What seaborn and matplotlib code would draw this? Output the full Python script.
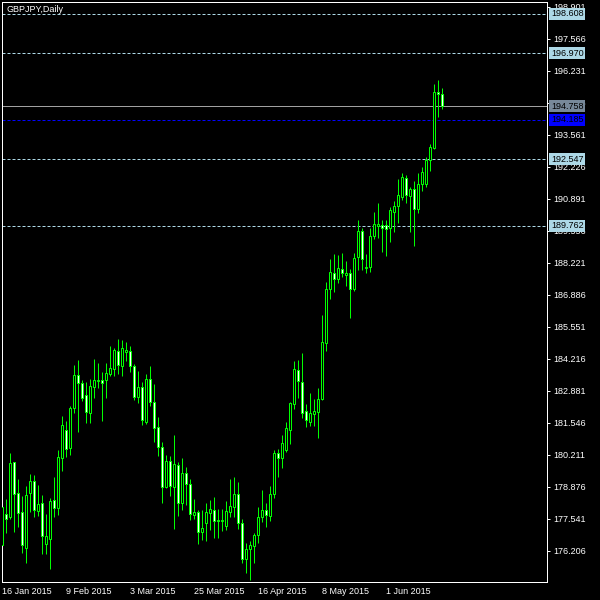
import numpy as np
import pandas as pd
import seaborn as sns
import matplotlib.pyplot as plt

# daily candles, GBPJPY from 16 Jan 2015
opens = [176.44, 177.74, 177.62, 179.89, 178.60, 177.81, 176.33, 178.60, 179.10, 177.87,
         178.18, 176.50, 176.71, 178.31, 178.00, 180.08, 181.24, 180.48, 182.15, 183.54,
         183.19, 182.70, 181.96, 183.05, 183.29, 183.31, 183.33, 183.59, 183.80, 184.53,
         183.93, 184.49, 184.55, 183.91, 182.63, 183.02, 181.59, 183.36, 182.40, 181.35,
         180.52, 178.85, 179.93, 178.87, 179.77, 178.18, 179.43, 178.97, 177.71, 177.81,
         177.00, 177.37, 177.77, 177.90, 177.49, 177.46, 177.25, 177.81, 178.04, 178.56,
         177.35, 175.85, 176.26, 176.41, 176.85, 177.60, 177.89, 177.67, 178.56, 180.27,
         180.06, 180.41, 181.24, 182.31, 183.73, 183.23, 182.02, 181.59, 181.90, 182.00,
         182.52, 184.86, 187.12, 187.78, 187.55, 187.96, 187.72, 187.78, 187.14, 188.47,
         189.56, 187.99, 188.03, 189.34, 189.76, 189.81, 189.81, 189.66, 190.35, 190.59,
         190.97, 191.74, 191.02, 191.29, 190.45, 191.50, 191.49, 192.50, 193.02, 195.35,
         195.26]
highs = [178.11, 178.35, 180.28, 179.92, 179.20, 178.49, 178.90, 179.40, 179.35, 178.95,
         178.53, 177.74, 178.39, 179.29, 180.41, 181.82, 181.62, 182.24, 183.95, 184.16,
         183.33, 183.23, 183.37, 184.19, 184.04, 183.67, 184.04, 184.74, 184.66, 185.04,
         184.99, 184.90, 184.74, 184.01, 183.70, 183.24, 183.58, 183.91, 183.16, 181.77,
         180.73, 180.20, 180.16, 181.03, 179.91, 180.07, 179.68, 179.18, 178.36, 177.90,
         177.90, 178.18, 178.32, 178.45, 177.94, 177.94, 178.28, 179.20, 179.28, 179.07,
         177.51, 176.51, 176.60, 176.93, 178.04, 178.74, 178.18, 178.90, 180.41, 180.45,
         181.02, 181.56, 182.40, 184.11, 184.16, 184.44, 182.31, 182.77, 182.53, 182.98,
         186.03, 187.41, 188.36, 188.58, 188.54, 188.61, 188.29, 187.95, 188.61, 190.00,
         189.66, 188.58, 189.66, 190.32, 190.70, 190.00, 190.00, 190.56, 190.79, 191.72,
         191.97, 191.88, 191.39, 191.63, 191.96, 192.21, 192.62, 193.16, 195.68, 195.84,
         195.50]
lows = [176.32, 176.96, 177.52, 177.00, 177.18, 176.12, 175.70, 177.83, 177.62, 177.67,
        176.07, 176.07, 175.44, 177.60, 177.69, 179.54, 180.13, 180.20, 181.96, 181.17,
        182.45, 181.52, 181.54, 182.59, 183.00, 181.63, 182.58, 183.51, 183.49, 183.58,
        183.49, 184.13, 183.65, 182.49, 182.38, 181.45, 181.50, 182.24, 180.75, 180.16,
        178.21, 178.83, 178.50, 177.12, 177.67, 177.90, 178.11, 177.49, 177.51, 176.47,
        176.65, 176.62, 177.07, 176.75, 176.75, 177.04, 177.07, 177.62, 177.62, 177.10,
        175.68, 175.26, 174.98, 175.68, 176.54, 177.41, 177.21, 177.44, 178.42, 179.29,
        179.65, 180.31, 180.64, 182.12, 182.56, 181.75, 181.38, 181.41, 181.41, 180.92,
        182.48, 184.55, 186.69, 187.01, 187.36, 187.64, 187.26, 185.93, 187.05, 187.92,
        187.92, 187.78, 187.85, 189.20, 189.26, 188.68, 188.51, 189.10, 189.51, 189.86,
        190.84, 190.70, 189.51, 188.93, 190.28, 191.22, 191.39, 192.06, 192.96, 194.31,
        194.62]
closes = [178.03, 177.54, 179.85, 178.56, 177.77, 176.43, 178.53, 179.10, 177.89, 178.15,
          176.83, 176.82, 178.27, 178.00, 180.10, 181.44, 180.45, 182.15, 183.54, 183.19,
          182.56, 181.98, 183.07, 183.31, 183.31, 183.19, 183.63, 183.83, 184.58, 183.94,
          184.65, 184.58, 183.90, 182.63, 183.05, 181.65, 183.36, 182.40, 181.34, 180.52,
          178.87, 179.93, 178.89, 179.81, 178.18, 179.43, 178.97, 177.72, 177.82, 177.00,
          177.14, 177.81, 177.93, 177.46, 177.46, 177.49, 177.86, 178.07, 178.56, 177.35,
          175.85, 176.26, 176.43, 176.85, 177.60, 177.89, 177.68, 178.57, 180.27, 180.06,
          180.69, 181.31, 182.35, 183.77, 183.30, 181.94, 181.66, 181.94, 182.02, 182.52,
          184.90, 187.12, 187.82, 187.55, 187.99, 187.78, 187.78, 187.14, 188.43, 189.53,
          188.36, 188.05, 189.35, 189.82, 189.83, 189.68, 189.61, 190.42, 190.59, 191.04,
          191.80, 191.04, 191.29, 190.45, 191.49, 191.99, 192.50, 193.03, 195.35, 195.25,
          194.76]

date_labels = ['16 Jan 2015', '9 Feb 2015', '3 Mar 2015', '25 Mar 2015',
               '16 Apr 2015', '8 May 2015', '1 Jun 2015']
price_ticks = [176.206, 177.541, 178.876, 180.211, 181.546, 182.881, 184.216, 185.551,
               186.886, 188.221, 189.556, 190.891, 192.226, 193.561, 194.896, 196.231,
               197.566, 198.901]
level_lines = [198.608, 196.970, 192.547, 189.762]
blue_level = 194.185
bid_price = 194.758

df = pd.DataFrame({'open': opens, 'high': highs, 'low': lows, 'close': closes})
df['bar'] = np.arange(len(df))
df['bull'] = df['close'] >= df['open']

sns.set_style('dark', {'axes.facecolor': 'black', 'figure.facecolor': 'black',
                       'axes.edgecolor': 'white', 'axes.grid': False})
plt.rcParams['font.family'] = ['Liberation Sans', 'DejaVu Sans']

fig = plt.figure(figsize=(6, 6), dpi=100)
ax = fig.add_axes([2 / 600, 18 / 600, 545 / 600, 580 / 600])
ax.set_facecolor('black')

green = '#00FF00'
px = 0.72  # one pixel in points

# wicks then bodies on top
ax.vlines(df['bar'], df['low'], df['high'], color=green, lw=px, zorder=2)
body_lo = df[['open', 'close']].min(axis=1)
body_h = (df['close'] - df['open']).abs().clip(lower=0.01)
ax.bar(df['bar'], body_h, bottom=body_lo, width=0.5,
       color=np.where(df['bull'], 'black', 'white'),
       edgecolor=green, linewidth=px, zorder=3)

# horizontal levels
for lvl in level_lines:
    ax.axhline(lvl, color='#ADD8E6', lw=px, ls=(0, (3, 2)), zorder=1)
ax.axhline(blue_level, color='#0000FF', lw=px, ls=(0, (3, 2)), zorder=1)
ax.axhline(bid_price, color='#A0A0A0', lw=px, zorder=1)

ax.set_xlim(-0.08, 136.2)
ax.set_ylim(174.90, 199.10)

# axes and ticks
for s in ax.spines.values():
    s.set_color('white')
    s.set_linewidth(px)
ax.yaxis.tick_right()
ax.set_yticks(price_ticks)
ax.set_yticklabels([f'{p:.3f}' for p in price_ticks])
ax.set_xticks(np.arange(len(date_labels)) * 16)
ax.set_xticklabels(date_labels)
for lab in ax.get_xticklabels():
    lab.set_ha('left')
ax.tick_params(axis='both', colors='white', labelsize=6.5, length=2.4, width=px,
               direction='out')
ax.tick_params(axis='y', pad=2.2)
ax.tick_params(axis='x', pad=1.5)

# price boxes on the right scale
boxes = [(p, '#ADD8E6') for p in level_lines] + [(bid_price, '#778899'), (blue_level, '#0000FF')]
for p, col in boxes:
    ax.annotate(f'{p:.3f}', xy=(1, p), xycoords=('axes fraction', 'data'),
                xytext=(2.8, 0), textcoords='offset points', ha='left', va='center',
                fontsize=6.5, color='black', annotation_clip=False, zorder=10,
                bbox=dict(boxstyle='square,pad=0.16', fc=col, ec='none'))

ax.text(0.0075, 0.995, 'GBPJPY,Daily', transform=ax.transAxes, color='white',
        fontsize=6.5, ha='left', va='top')

fig.savefig('out.png', dpi=100, facecolor='black')
